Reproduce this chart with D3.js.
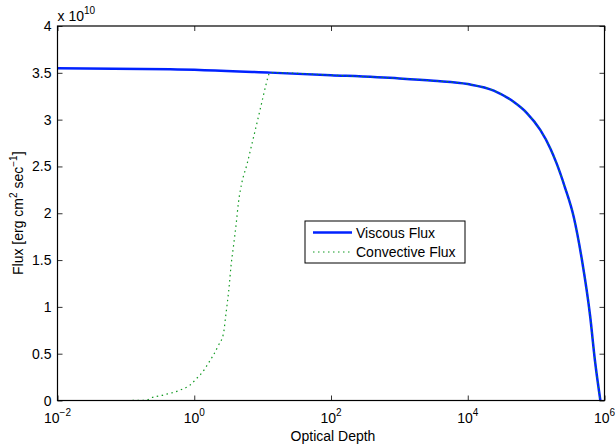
<!DOCTYPE html>
<html>
<head>
<meta charset="utf-8">
<script src="https://cdn.jsdelivr.net/npm/d3@7"></script>
<style>
  html, body { margin: 0; padding: 0; background: #fff; }
  svg { display: block; font-family: "Liberation Sans", Arial, Helvetica, sans-serif; }
</style>
</head>
<body>
<svg id="chart" width="616" height="448"></svg>
<script>
// ---- Data ----
const viscousTau  = [0.01, 0.445, 12.9, 100, 1000, 3162, 10000, 24000, 46800, 73300, 115000, 162000, 200000, 263000, 355000, 468000, 617000, 724000, 870000];
const viscousFlux = [3.549, 3.538, 3.502, 3.475, 3.44, 3.415, 3.38, 3.31, 3.19, 3.07, 2.89, 2.69, 2.53, 2.28, 1.96, 1.50, 0.90, 0.43, 0.0];

const convTau  = [0.01, 0.1, 0.2, 0.227, 0.355, 0.624, 0.871, 1.09, 1.22, 1.61, 2.26, 2.68, 2.87, 3.27, 3.44, 3.75, 4.11, 4.44, 4.98, 5.89, 6.97, 8.24, 9.77, 11.0, 12.9, 100, 1000, 3162, 10000, 24000, 46800, 73300, 115000, 162000, 200000, 263000, 355000, 468000, 617000, 724000, 870000];
const convFlux = [0, 0, 0.003, 0.024, 0.059, 0.112, 0.166, 0.237, 0.273, 0.398, 0.59, 0.717, 0.89, 1.25, 1.43, 1.65, 1.89, 2.12, 2.33, 2.52, 2.74, 2.96, 3.19, 3.35, 3.502, 3.475, 3.44, 3.415, 3.38, 3.31, 3.19, 3.07, 2.89, 2.69, 2.53, 2.28, 1.96, 1.50, 0.90, 0.43, 0.0];

const xTickExponents = [-2, 0, 2, 4, 6];
const yTicks = [0, 0.5, 1, 1.5, 2, 2.5, 3, 3.5, 4];
const seriesNames = ["Viscous Flux", "Convective Flux"];

// ---- Layout ----
const L = 57.5, R = 604.5, T = 26, B = 400.5;
const svg = d3.select("#chart");
const x = d3.scaleLog().domain([1e-2, 1e6]).range([L, R]);
const y = d3.scaleLinear().domain([0, 4]).range([B, T]);

svg.append("defs").append("clipPath").attr("id", "clip")
  .append("rect").attr("x", L).attr("y", T - 2).attr("width", R - L).attr("height", B - T + 2);

const xTickVals = xTickExponents.map(e => Math.pow(10, e));

// axes (ticks inward)
const axB = svg.append("g").attr("transform", `translate(0,${B})`)
  .call(d3.axisBottom(x).tickValues(xTickVals).tickSizeInner(-5).tickSizeOuter(0).tickFormat(() => ""));
const axT = svg.append("g").attr("transform", `translate(0,${T})`)
  .call(d3.axisTop(x).tickValues(xTickVals).tickSizeInner(-5).tickSizeOuter(0).tickFormat(() => ""));
const axL = svg.append("g").attr("transform", `translate(${L},0)`)
  .call(d3.axisLeft(y).tickValues(yTicks).tickSizeInner(-5).tickSizeOuter(0).tickFormat(() => ""));
const axR = svg.append("g").attr("transform", `translate(${R},0)`)
  .call(d3.axisRight(y).tickValues(yTicks).tickSizeInner(-5).tickSizeOuter(0).tickFormat(() => ""));
[axB, axT, axL, axR].forEach(g => {
  g.select(".domain").remove();
  g.selectAll(".tick line").attr("stroke", "#333").attr("stroke-width", 1);
});

// Lines
const line = d3.line().x(d => x(d[0])).y(d => y(d[1])).curve(d3.curveMonotoneX);
const plot = svg.append("g").attr("clip-path", "url(#clip)");

plot.append("path")
  .datum(viscousTau.map((t, i) => [t, viscousFlux[i]]))
  .attr("d", line).attr("fill", "none")
  .attr("stroke", "#0022ff").attr("stroke-width", 2.5);

plot.append("path")
  .datum(convTau.map((t, i) => [t, convFlux[i]]))
  .attr("d", line).attr("fill", "none")
  .attr("stroke", "#119a22").attr("stroke-width", 1.2)
  .attr("stroke-dasharray", "1.5,3.5");

// Frame
svg.append("rect").attr("x", L).attr("y", T).attr("width", R - L).attr("height", B - T)
  .attr("fill", "none").attr("stroke", "#000").attr("stroke-width", 1.2);

// X tick labels 10^n
const xl = svg.append("g").selectAll("text").data(xTickExponents).join("text")
  .attr("x", d => x(Math.pow(10, d)))
  .attr("y", B + 22)
  .attr("text-anchor", "middle")
  .attr("font-size", 14)
  .attr("fill", "#000");
xl.append("tspan").text("10");
xl.append("tspan").attr("dy", -7).attr("font-size", 10).text(d => d < 0 ? "\u2212" + (-d) : String(d));

// Y tick labels
svg.append("g").selectAll("text").data(yTicks).join("text")
  .attr("x", L - 6).attr("y", d => y(d) + 5)
  .attr("text-anchor", "end").attr("font-size", 14).attr("fill", "#000")
  .text(d3.format("~g"));

// Multiplier label
const mult = svg.append("text").attr("x", L).attr("y", 21).attr("font-size", 14).attr("fill", "#000");
mult.append("tspan").text("x 10");
mult.append("tspan").attr("dy", -7).attr("font-size", 10).text("10");

// Axis titles
svg.append("text").attr("x", (L + R) / 2 + 2).attr("y", 441)
  .attr("text-anchor", "middle").attr("font-size", 14).attr("fill", "#000")
  .text("Optical Depth");

const yt = svg.append("text")
  .attr("transform", `translate(23,${(T + B) / 2}) rotate(-90)`)
  .attr("text-anchor", "middle").attr("font-size", 14).attr("fill", "#000");
yt.append("tspan").text("Flux [erg cm");
yt.append("tspan").attr("dy", -6).attr("font-size", 10).text("2");
yt.append("tspan").attr("dy", 6).text(" sec");
yt.append("tspan").attr("dy", -6).attr("font-size", 10).text("\u22121");
yt.append("tspan").attr("dy", 6).text("]");

// Legend
const lg = svg.append("g");
lg.append("rect").attr("x", 305).attr("y", 221).attr("width", 160).attr("height", 42)
  .attr("fill", "#fff").attr("stroke", "#000").attr("stroke-width", 1);
const styles = [
  { stroke: "#0022ff", width: 2.5, dash: null },
  { stroke: "#119a22", width: 1.2, dash: "1.5,3.5" }
];
seriesNames.forEach((name, i) => {
  const yy = 232.5 + i * 19.5;
  lg.append("line").attr("x1", 313).attr("x2", 352).attr("y1", yy).attr("y2", yy)
    .attr("stroke", styles[i].stroke).attr("stroke-width", styles[i].width)
    .attr("stroke-dasharray", styles[i].dash);
  lg.append("text").attr("x", 356).attr("y", yy + 5).attr("font-size", 14).attr("fill", "#000").text(name);
});
</script>
</body>
</html>
